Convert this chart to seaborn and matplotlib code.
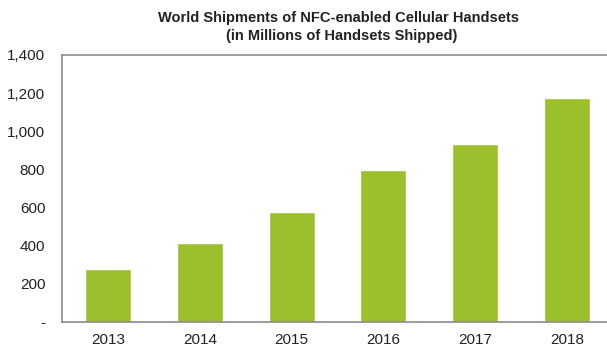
import matplotlib
matplotlib.use("Agg")
import matplotlib.pyplot as plt
import seaborn as sns
import pandas as pd

years = ["2013", "2014", "2015", "2016", "2017", "2018"]
shipments = [278, 414, 577, 797, 935, 1175]
yticks = [0, 200, 400, 600, 800, 1000, 1200, 1400]
ytick_labels = ["-", "200", "400", "600", "800", "1,000", "1,200", "1,400"]

df = pd.DataFrame({"year": years, "shipments": shipments})

sns.set_style("white")
plt.rcParams["font.family"] = ["Liberation Sans", "DejaVu Sans"]

fig = plt.figure(figsize=(6.07, 3.49), dpi=100)
ax = fig.add_axes([62 / 607, 1 - 322 / 349, 551 / 607, 267 / 349])
sns.barplot(data=df, x="year", y="shipments", color="#9cbf2e", width=0.5,
            saturation=1, ax=ax)
ax.set_xlim(-0.5, 5.5)
ax.set_ylim(0, 1400)
ax.set_yticks(yticks)
ax.set_yticklabels(ytick_labels)
ax.set_xlabel("")
ax.set_ylabel("")
ax.tick_params(axis="both", labelsize=11, colors="#222222", length=0)
ax.tick_params(axis="y", pad=12)
ax.tick_params(axis="x", pad=8)
for s in ax.spines.values():
    s.set_color("#8c8c8c")
    s.set_linewidth(1.2)
ax.spines["right"].set_visible(False)

fig.text(338 / 607, 1 - 18 / 349, "World Shipments of NFC-enabled Cellular Handsets",
         ha="center", va="center", fontsize=10.5, fontweight="bold", color="#222222")
fig.text(342 / 607, 1 - 36 / 349, "(in Millions of Handsets Shipped)",
         ha="center", va="center", fontsize=10.5, fontweight="bold", color="#222222")

fig.savefig("out.png", dpi=100)
